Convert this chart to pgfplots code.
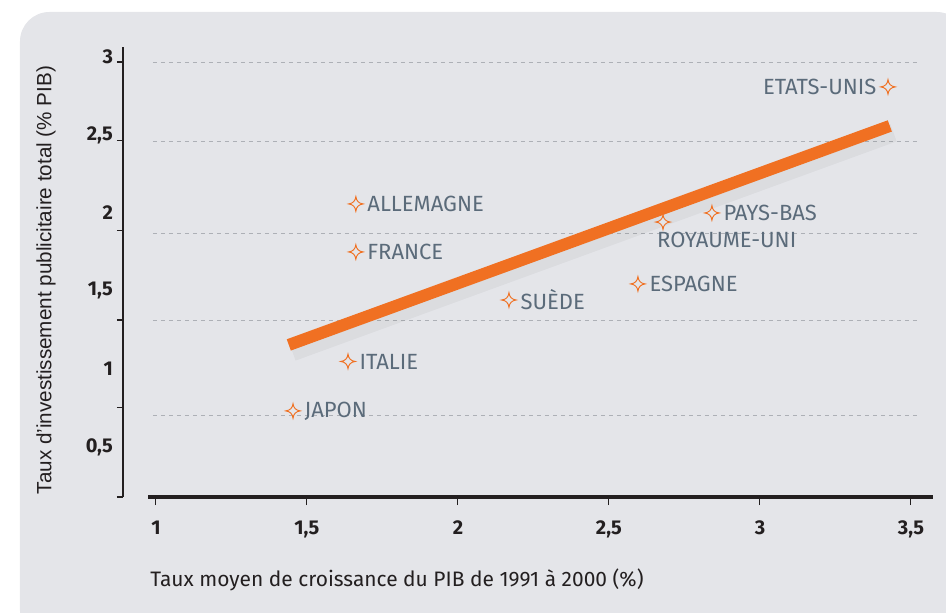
\documentclass[border=0pt]{standalone}
\usepackage{pgfplots}
\pgfplotsset{compat=1.18}
\usepackage{fontspec}
\setmainfont{Fira Sans}
\newfontfamily\arialfont{Liberation Sans}
\definecolor{panel}{HTML}{E4E5E9}
\definecolor{orangeline}{HTML}{F07022}
\definecolor{labelcol}{HTML}{5B6B7A}
\definecolor{tickcol}{HTML}{231F20}
\definecolor{gridcol}{HTML}{ADB0B6}

\pgfdeclareplotmark{star4}{%
  \pgfpathmoveto{\pgfqpoint{0pt}{\pgfplotmarksize}}%
  \pgfpathquadraticcurveto{\pgfqpoint{0.1\pgfplotmarksize}{0.1\pgfplotmarksize}}{\pgfqpoint{\pgfplotmarksize}{0pt}}%
  \pgfpathquadraticcurveto{\pgfqpoint{0.1\pgfplotmarksize}{-0.1\pgfplotmarksize}}{\pgfqpoint{0pt}{-\pgfplotmarksize}}%
  \pgfpathquadraticcurveto{\pgfqpoint{-0.1\pgfplotmarksize}{-0.1\pgfplotmarksize}}{\pgfqpoint{-\pgfplotmarksize}{0pt}}%
  \pgfpathquadraticcurveto{\pgfqpoint{-0.1\pgfplotmarksize}{0.1\pgfplotmarksize}}{\pgfqpoint{0pt}{\pgfplotmarksize}}%
  \pgfpathclose
  \pgfusepathqfillstroke
}

\pgfplotstableread{
x y label
1.662 2.058 ALLEMAGNE
1.662 1.750 FRANCE
2.841 2.000 PAYS-BAS
2.596 1.545 ESPAGNE
2.169 1.442 SUÈDE
1.636 1.048 ITALIE
1.454 0.731 JAPON
}\rightpts
\pgfplotstableread{
x y label
3.424 2.808 ETATS-UNIS
}\leftpts
\pgfplotstableread{
x y label
2.679 1.942 ROYAUME-UNI
}\belowpts

\begin{document}
\begin{tikzpicture}
\begin{scope}[x=0.75pt,y=-0.75pt,shift={(-92.25pt,372.75pt)}]
\path[use as bounding box] (0,0) rectangle (946,612);
\fill[panel, rounded corners=22pt] (20,12) rectangle (966,640);
\end{scope}
\begin{axis}[
  at={(0pt,0pt)}, anchor=south west,
  scale only axis, width=607.5pt, height=337.5pt,
  xmin=0.891, xmax=3.573, ymin=0.179, ymax=3.064,
  clip=false,
  axis line style={draw=none},
  xtick={1,1.5,2,2.5,3,3.5},
  ytick={0.5,1,1.5,2,2.5,3},
  xtick pos=lower, ytick pos=left,
  tick align=outside,
  major tick length=6pt,
  x tick style={draw=tickcol, line width=0.8pt},
  y tick style={draw=none},
  extra y ticks={0.179,0.75,1.314,1.885,2.462,2.968},
  extra y tick style={yticklabel={}, major tick length=4.5pt, y tick style={draw=tickcol, line width=0.8pt}},
  /pgf/number format/assume math mode=true,
  /pgf/number format/use comma,
  ticklabel style={font=\fontsize{15}{17}\selectfont\bfseries, text=tickcol},
  yticklabel style={xshift=2pt},
  xticklabel style={yshift=-8.5pt},
  mark size=5.5pt,
]
\foreach \g in {2.968,2.462,1.872,1.314,0.705}{
  \edef\tmp{\noexpand\draw[gridcol, line width=0.6pt, dash pattern=on 3pt off 3pt] (axis cs:0.99,\g) -- (axis cs:3.53,\g);}\tmp
}
\draw[tickcol, line width=0.9pt] (rel axis cs:0,0) -- (rel axis cs:0,1);
\draw[tickcol, line width=3.2pt] (rel axis cs:0.031,0) -- (rel axis cs:1,0);

\addplot[black, opacity=0.04, line width=14pt, no markers] coordinates {(1.452,1.110) (3.442,2.515)};
\addplot[orangeline, line width=9pt, no markers] coordinates {(1.440,1.154) (3.430,2.558)};

\addplot[only marks, mark=star4, mark options={draw=orangeline, fill=panel, line width=0.7pt},
  nodes near coords, point meta=explicit symbolic,
  every node near coord/.append style={anchor=west, xshift=5pt, text=labelcol, font=\fontsize{16.5}{18}\selectfont}]
  table[meta=label] {\rightpts};
\addplot[only marks, mark=star4, mark options={draw=orangeline, fill=panel, line width=0.7pt},
  nodes near coords, point meta=explicit symbolic,
  every node near coord/.append style={anchor=east, xshift=-5pt, text=labelcol, font=\fontsize{16.5}{18}\selectfont}]
  table[meta=label] {\leftpts};
\addplot[only marks, mark=star4, mark options={draw=orangeline, fill=panel, line width=0.7pt},
  nodes near coords, point meta=explicit symbolic,
  every node near coord/.append style={anchor=north west, xshift=-8pt, yshift=-4pt, text=labelcol, font=\fontsize{16.5}{18}\selectfont}]
  table[meta=label] {\belowpts};
\end{axis}
\begin{scope}[x=0.75pt,y=-0.75pt,shift={(-92.25pt,372.75pt)}]
\node[anchor=base west, inner sep=0pt, font=\fontsize{15.7}{17}\selectfont, text=tickcol] at (150,586) {Taux moyen de croissance du PIB de 1991 à 2000 (\%)};
\node[rotate=90, inner sep=0pt, font=\arialfont\fontsize{15.5}{17}\selectfont, text=tickcol] at (46,280) {Taux d’investissement publicitaire total (\% PIB)};
\end{scope}
\end{tikzpicture}
\end{document}
